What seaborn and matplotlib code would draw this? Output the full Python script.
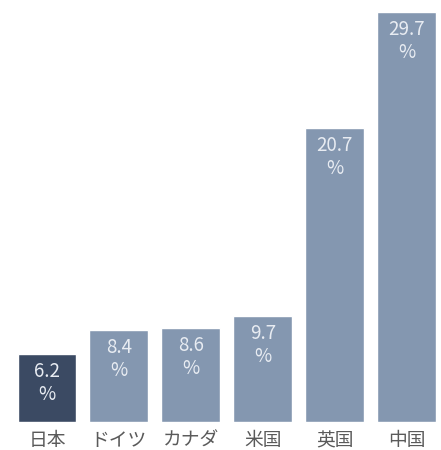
import matplotlib
matplotlib.use("Agg")
import matplotlib.pyplot as plt
import seaborn as sns
import pandas as pd

categories = ["日本", "ドイツ", "カナダ", "米国", "英国", "中国"]
label_values = [6.2, 8.4, 8.6, 9.7, 20.7, 29.7]
bar_heights = [6.2, 8.4, 8.6, 9.7, 26.9, 37.5]
bar_colors = ["#3b4a63", "#8497b0", "#8497b0", "#8497b0", "#8497b0", "#8497b0"]

sns.set_theme(style="white")
plt.rcParams["font.family"] = ["Noto Sans CJK JP", "DejaVu Sans"]

df = pd.DataFrame({"cat": categories, "h": bar_heights})

fig = plt.figure(figsize=(4.41, 4.5), dpi=100)
ax = fig.add_axes([0, 0.063, 1, 0.937])
sns.barplot(data=df, x="cat", y="h", hue="cat", palette=bar_colors,
            legend=False, width=0.82, saturation=1, ax=ax)

ax.set_xlim(-0.654, 5.48)
ax.set_ylim(0, 38.58)
for s in ax.spines.values():
    s.set_visible(False)
ax.set_yticks([])
ax.set_xlabel("")
ax.set_ylabel("")
ax.tick_params(axis="x", length=0, pad=6, labelsize=13.5, labelcolor="#5a5a5a")

for patch, v in zip(ax.patches, label_values):
    x = patch.get_x() + patch.get_width() / 2
    y = patch.get_height()
    ax.annotate(f"{v:.1f}\n%", xy=(x, y), xytext=(0, -5), textcoords="offset points",
                ha="center", va="top", color="#e8ecf2", fontsize=13.5,
                linespacing=1.15)

fig.savefig("out.png", dpi=100)
